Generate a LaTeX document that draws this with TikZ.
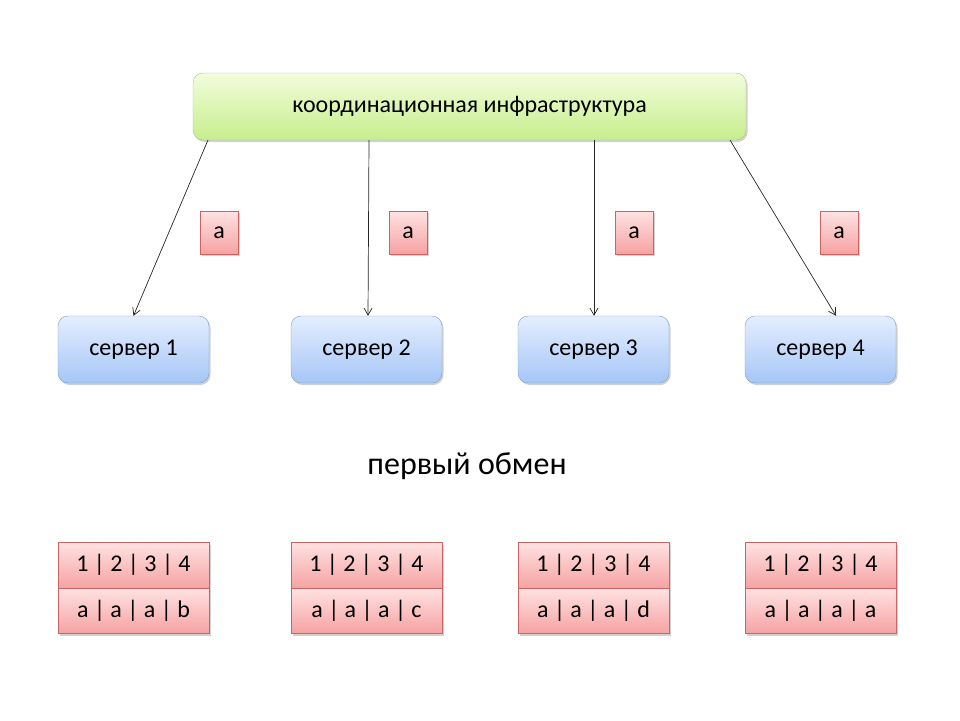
\documentclass[tikz,border=0pt]{standalone}
\usepackage{fontspec}
\setmainfont{Carlito}
\usetikzlibrary{shadows,arrows.meta}
\definecolor{gtop}{HTML}{F2FDDC}
\definecolor{gbot}{HTML}{C6EE8C}
\definecolor{gedge}{HTML}{A8C878}
\definecolor{btop}{HTML}{E4EEFF}
\definecolor{bbot}{HTML}{A6C6F6}
\definecolor{bedge}{HTML}{7F9CC8}
\definecolor{rtop}{HTML}{FFE2E2}
\definecolor{rbot}{HTML}{F6A2A2}
\definecolor{redge}{HTML}{C86464}
\tikzset{
  x=1pt,y=-1pt,
  shadowed/.style={drop shadow={shadow xshift=1.5pt,shadow yshift=-2pt,fill=black,opacity=0.18}},
  coord/.style={draw=gedge,rounded corners=10pt,top color=gtop,bottom color=gbot,shadowed,
    minimum width=553pt,minimum height=67pt,font=\fontsize{24}{28}\selectfont,inner sep=0pt},
  srv/.style={draw=bedge,rounded corners=10pt,top color=btop,bottom color=bbot,shadowed,
    minimum width=151pt,minimum height=67pt,font=\fontsize{24}{28}\selectfont,inner sep=0pt},
  tag/.style={draw=redge,top color=rtop,bottom color=rbot,shadowed,
    minimum width=38pt,minimum height=43pt,font=\fontsize{24}{28}\selectfont,inner sep=0pt},
  cell/.style={draw=redge,top color=rtop,bottom color=rbot,shadowed,
    minimum width=151pt,minimum height=45.5pt,font=\fontsize{24}{28}\selectfont,inner sep=0pt},
  conn/.style={draw=black!85,line width=0.7pt,-{Straight Barb[length=7pt,width=8pt]}},
}
\begin{document}
\begin{tikzpicture}
\useasboundingbox (0,0) rectangle (960,720);
\node[coord] (top) at (469.5,106.5) {координационная инфраструктура};
\node[srv] (s1) at (133.5,349.5) {сервер 1};
\node[srv] (s2) at (366.5,349.5) {сервер 2};
\node[srv] (s3) at (593.5,349.5) {сервер 3};
\node[srv] (s4) at (820.5,349.5) {сервер 4};
\node[tag] (a1) at (219,232.5) {a};
\node[tag] (a2) at (408,232.5) {a};
\node[tag] (a3) at (634,232.5) {a};
\node[tag] (a4) at (839,232.5) {a};
\coordinate (t1) at (208,140);
\coordinate (t2) at (369,140);
\coordinate (t3) at (594,140);
\coordinate (t4) at (730,140);
\draw[conn] (t1) -- (s1.north);
\draw[conn] (t2) -- (s2.north -| 368,0);
\draw[conn] (t3) -- (s3.north -| 594,0);
\draw[conn] (t4) -- (s4.north -| 836,0);
\node[font=\fontsize{32}{36}\selectfont] (lbl) at (467,466) {первый обмен};
\node[cell] (h1) at (133.5,565.25) {1 | 2 | 3 | 4};
\node[cell] (v1) at (133.5,610.75) {a | a | a | b};
\node[cell] (h2) at (366.5,565.25) {1 | 2 | 3 | 4};
\node[cell] (v2) at (366.5,610.75) {a | a | a | c};
\node[cell] (h3) at (593.5,565.25) {1 | 2 | 3 | 4};
\node[cell] (v3) at (593.5,610.75) {a | a | a | d};
\node[cell] (h4) at (820.5,565.25) {1 | 2 | 3 | 4};
\node[cell] (v4) at (820.5,610.75) {a | a | a | a};
\end{tikzpicture}
\end{document}
